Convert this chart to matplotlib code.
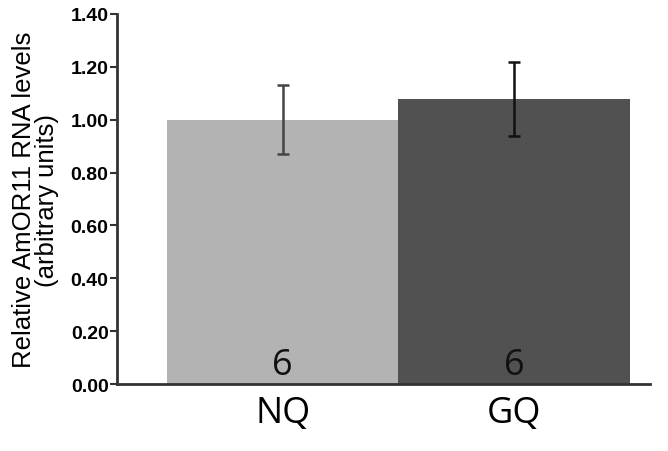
import matplotlib.pyplot as plt

groups = ["NQ", "GQ"]
means = [1.00, 1.08]
errors = [0.13, 0.14]
counts = ["6", "6"]
bar_colors = ["#b3b3b3", "#515151"]
err_colors = ["#444444", "#111111"]
y_ticks = [0.0, 0.2, 0.4, 0.6, 0.8, 1.0, 1.2, 1.4]

fig = plt.figure(figsize=(6.68, 4.52), dpi=100)
ax = fig.add_axes([0.175, 0.148, 0.798, 0.819])

x = range(len(groups))
ax.bar(x, means, width=1.0, color=bar_colors, edgecolor="none")
for xi, m, e, c in zip(x, means, errors, err_colors):
    ax.errorbar(xi, m, yerr=e, fmt="none", ecolor=c, elinewidth=1.8,
                capsize=4, capthick=1.8)

for xi, n in zip(x, counts):
    ax.text(xi, 0.04, n, ha="center", va="baseline", fontsize=26,
            family="Open Sans", color="#111111")

ax.set_xlim(-0.716, 1.587)
ax.set_ylim(0, 1.4)
ax.set_yticks(y_ticks)
ax.set_yticklabels([f"{t:.2f}" for t in y_ticks], fontsize=14,
                   fontweight="bold", family="Liberation Sans")
ax.set_xticks(list(x))
ax.set_xticklabels(groups, fontsize=26, family="Open Sans")
ax.tick_params(axis="x", length=0, pad=8)
ax.tick_params(axis="y", length=5, width=1.5, color="#333333", pad=1)

for side in ["top", "right"]:
    ax.spines[side].set_visible(False)
for side in ["left", "bottom"]:
    ax.spines[side].set_linewidth(2)
    ax.spines[side].set_color("#333333")

ax.set_ylabel("Relative AmOR11 RNA levels\n(arbitrary units)", fontsize=18.5,
              family="Liberation Sans", linespacing=0.95, labelpad=8)

fig.savefig("out.png", dpi=100)
